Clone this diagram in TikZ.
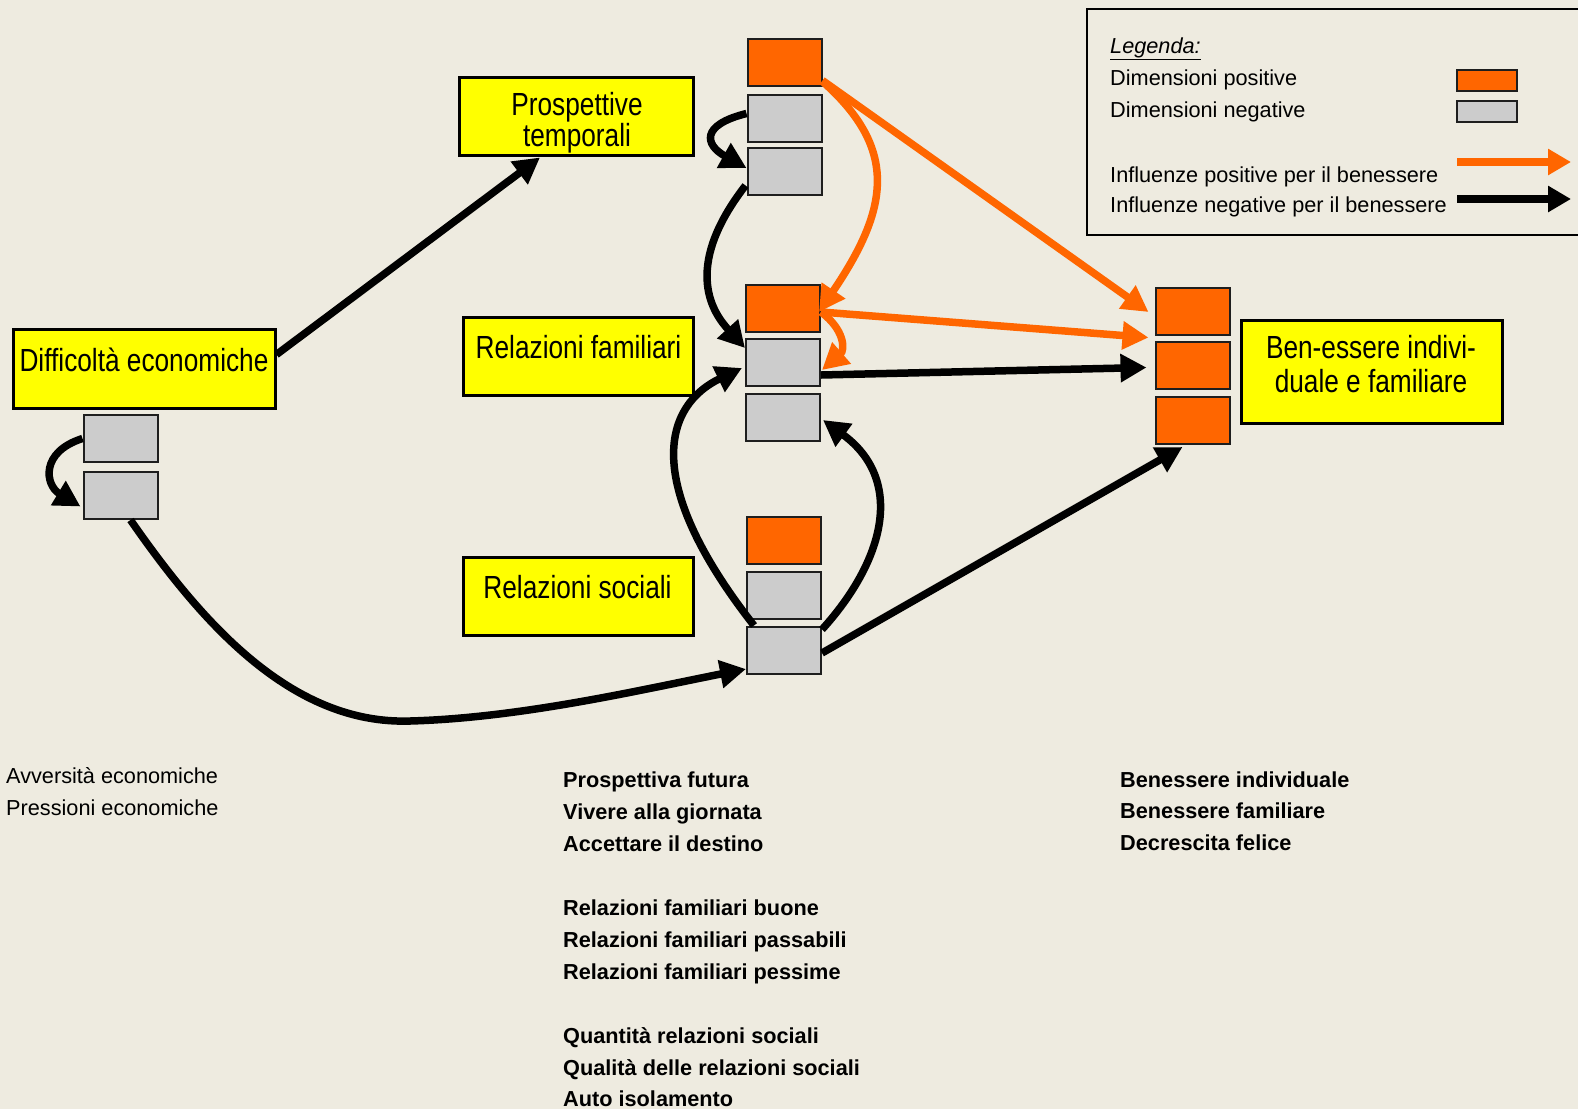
\documentclass[tikz,border=0pt]{standalone}
\usepackage{fontspec}
\setmainfont{Liberation Sans}
\newfontfamily\narrowfont[FakeStretch=0.82]{Liberation Sans}
\usetikzlibrary{arrows.meta,calc}
\definecolor{bgc}{RGB}{238,235,224}
\definecolor{org}{RGB}{255,102,0}
\definecolor{gry}{RGB}{204,204,204}
\definecolor{ylw}{RGB}{255,255,0}
\definecolor{edge}{RGB}{30,30,30}
\begin{document}
\begin{tikzpicture}[x=1pt,y=-1pt,
  ybox/.style={draw=black, line width=3pt, fill=ylw, inner sep=0pt},
  ytext/.style={font=\narrowfont\fontsize{32}{30}\selectfont, inner sep=0pt, anchor=base},
  sq/.style={draw=edge, line width=2pt, inner sep=0pt, minimum width=74pt, minimum height=47pt},
  posbox/.style={sq, fill=org},
  negbox/.style={sq, fill=gry},
  blk/.style={draw=black, line width=7.5pt, -{Triangle[length=26pt,width=27pt]}},
  orn/.style={draw=org, line width=7.5pt, -{Triangle[length=26pt,width=27pt]}},
  lgarrow/.style={line width=7.5pt, -{Triangle[length=23pt,width=25pt]}},
  txt/.style={font=\fontsize{21.7}{32}\selectfont, inner sep=0pt, anchor=base west},
  btxt/.style={font=\bfseries\fontsize{21.7}{32}\selectfont, inner sep=0pt, anchor=base west},
]
\fill[bgc] (0,0) rectangle (1578,1109);
\useasboundingbox (0,0) rectangle (1578,1109);

% legend
\node[draw=black, line width=2pt, minimum width=498pt, minimum height=226pt, inner sep=0pt] (legend) at (1336,122) {};
\node[txt, font=\itshape\fontsize{21.7}{32}\selectfont] (lgT) at (1110,53) {\underline{Legenda:}};
\node[txt] (lg1) at (1110,85) {Dimensioni positive};
\node[txt] (lg2) at (1110,117) {Dimensioni negative};
\node[txt] (lg3) at (1110,182) {Influenze positive per il benessere};
\node[txt] (lg4) at (1110,212) {Influenze negative per il benessere};
\node[posbox, minimum width=60pt, minimum height=21pt] (lgp) at (1487,80.5) {};
\node[negbox, minimum width=60pt, minimum height=21pt] (lgn) at (1487,111.5) {};
\coordinate (lo1) at (1457,162);
\coordinate (lo2) at (1571,162);
\coordinate (lb1) at (1457,199);
\coordinate (lb2) at (1571,199);
\draw[lgarrow, draw=org] (lo1) -- (lo2);
\draw[lgarrow, draw=black] (lb1) -- (lb2);

% yellow boxes
\node[ybox, minimum width=262pt, minimum height=79pt] (diff) at (144,368.5) {};
\node[ybox, minimum width=234pt, minimum height=78pt] (prosp) at (576,116) {};
\node[ybox, minimum width=230pt, minimum height=78pt] (fam) at (578,356) {};
\node[ybox, minimum width=230pt, minimum height=78pt] (soc) at (578,596) {};
\node[ybox, minimum width=261pt, minimum height=103pt] (ben) at (1371.5,371.5) {};
\node[ytext] (diffT) at (144,371) {Difficoltà economiche};
\node[ytext] (prospT1) at (577,115) {Prospettive};
\node[ytext] (prospT2) at (577,146) {temporali};
\node[ytext] (famT) at (578.5,358) {Relazioni familiari};
\node[ytext] (socT) at (577.5,598) {Relazioni sociali};
\node[ytext] (benT1) at (1371,358) {Ben-essere indivi-};
\node[ytext] (benT2) at (1371,392) {duale e familiare};

% small boxes
\node[posbox] (p1) at (784.5,62) {};
\node[negbox] (p2) at (784.5,118.5) {};
\node[negbox] (p3) at (784.5,171) {};
\node[posbox] (f1) at (783,308) {};
\node[negbox] (f2) at (783,362) {};
\node[negbox] (f3) at (783,417) {};
\node[posbox] (s1) at (784,540) {};
\node[negbox] (s2) at (784,595) {};
\node[negbox] (s3) at (784,650) {};
\node[posbox] (b1) at (1192.5,311) {};
\node[posbox] (b2) at (1192.5,365.5) {};
\node[posbox] (b3) at (1192.5,420.5) {};
\node[negbox] (d1) at (120.5,438.5) {};
\node[negbox] (d2) at (120.5,495.5) {};

% connectors
\draw[blk] ($(diff.east)+(0,-14)$) -- ($(prosp.south)+(-36,1)$);
\draw[blk] (d1.west) .. controls (40,452) and (45,485) .. ($(d2.west)+(-2,11)$);
\draw[blk] ($(d2.south)+(10,0)$) .. controls (200,620) and (290,725) .. (410,721)
  .. controls (520,718) and (640,690) .. ($(s3.west)+(0,19)$);
\draw[blk] ($(p2.west)+(0,-5)$) .. controls (700,125) and (705,145) .. ($(p3.west)+(0,-3)$);
\draw[blk] ($(p3.south west)+(-1,-10)$) .. controls (680,270) and (715,315) .. ($(f2.west)+(0,-14)$);
\draw[orn] ($(p1.south east)+(0,-5)$) .. controls (900,150) and (888,210) .. ($(f1.east)+(-2,4)$);
\draw[orn] ($(p1.south east)+(0,-6)$) -- ($(b1.west)+(-6,1)$);
\draw[orn] ($(f1.east)+(0,4)$) -- ($(b1.south west)+(-6,2)$);
\draw[orn] ($(f1.east)+(0,4)$) .. controls (845,330) and (845,350) .. ($(f2.east)+(1,8)$);
\draw[blk] ($(f2.east)+(0,13)$) -- ($(b2.west)+(-8,2)$);
\draw[blk] ($(s3.north west)+(8,0)$) .. controls (640,480) and (665,405) .. ($(f2.west)+(-3,6)$);
\draw[blk] ($(s3.north east)+(0,4)$) .. controls (885,560) and (905,480) .. ($(f3.east)+(2,3)$);
\draw[blk] ($(s3.east)+(0,3)$) -- ($(b3.south)+(-10,2)$);

% bottom texts
\node[txt] (l1) at (6,783) {Avversità economiche};
\node[txt] (l2) at (6,815) {Pressioni economiche};
\node[btxt] (m1) at (563,787) {Prospettiva futura};
\node[btxt] (m2) at (563,819) {Vivere alla giornata};
\node[btxt] (m3) at (563,851) {Accettare il destino};
\node[btxt] (m4) at (563,915) {Relazioni familiari buone};
\node[btxt] (m5) at (563,947) {Relazioni familiari passabili};
\node[btxt] (m6) at (563,979) {Relazioni familiari pessime};
\node[btxt] (m7) at (563,1043) {Quantità relazioni sociali};
\node[btxt] (m8) at (563,1075) {Qualità delle relazioni sociali};
\node[btxt] (m9) at (563,1106) {Auto isolamento};
\node[btxt] (r1) at (1120,787) {Benessere individuale};
\node[btxt] (r2) at (1120,818) {Benessere familiare};
\node[btxt] (r3) at (1120,850) {Decrescita felice};
\end{tikzpicture}
\end{document}
